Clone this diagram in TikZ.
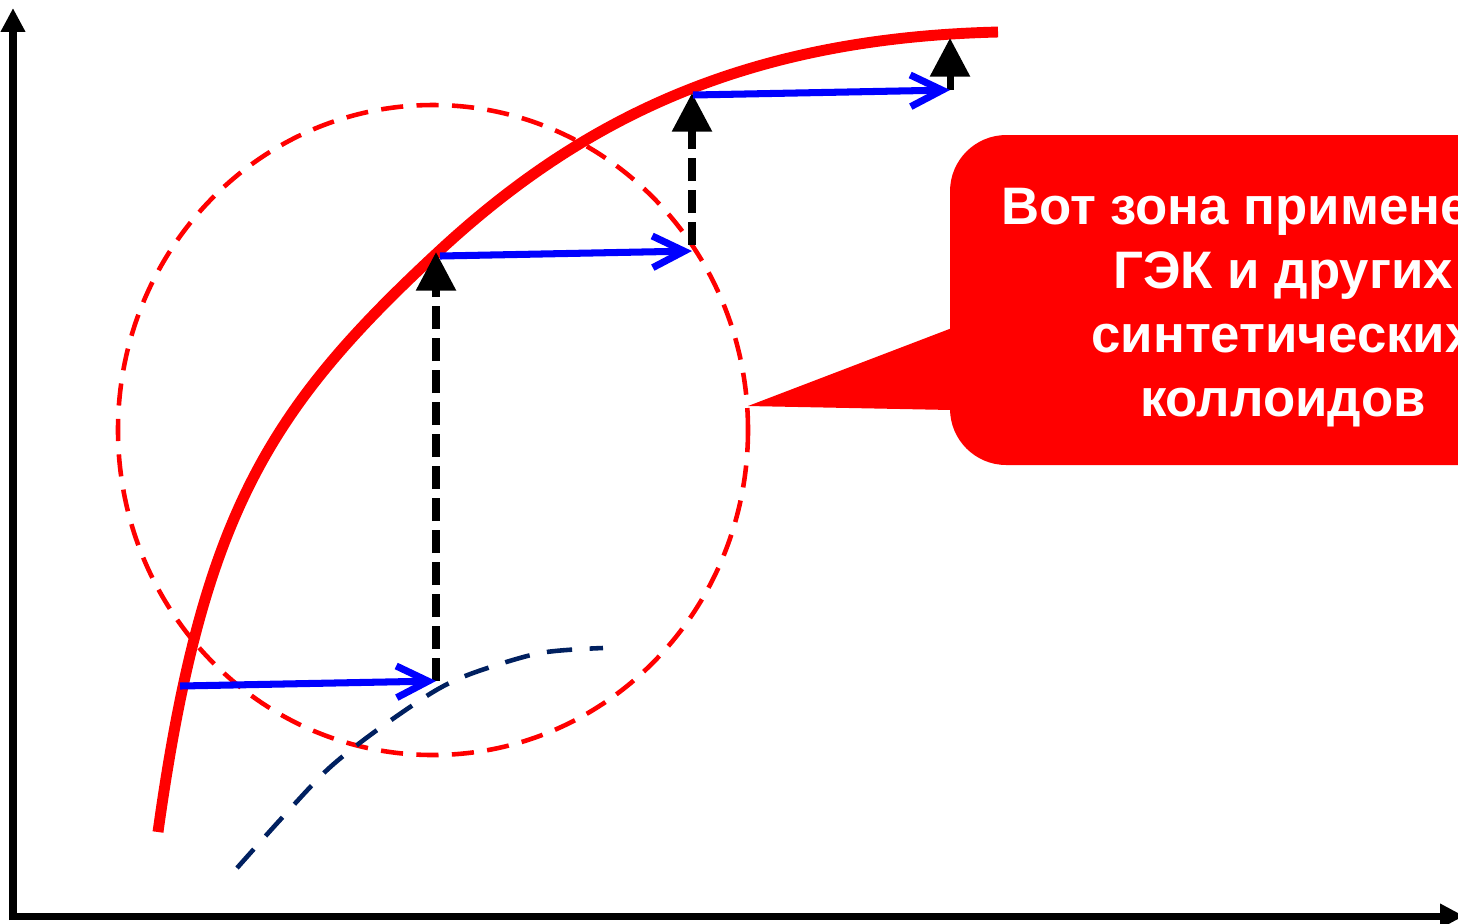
\documentclass[tikz,border=0pt]{standalone}
\usepackage{fontspec}
\setmainfont{Liberation Sans}
\usetikzlibrary{arrows.meta}
\definecolor{navy}{HTML}{002060}

\begin{document}
\begin{tikzpicture}[
    x=0.01cm, y=-0.01cm,
    axis/.style = {-{Triangle[length=6.8pt, width=6.6pt]}, line width=2pt, black},
    curv/.style = {line width=3.1pt, red},
    zone/.style = {dash pattern=on 6.3pt off 3.8pt, line width=1.3pt, red},
    low/.style  = {dash pattern=on 7.2pt off 5pt, line width=1.3pt, navy},
    hop/.style  = {-{Straight Barb[length=9pt, width=9pt]}, line width=2pt, blue},
    lift/.style = {-{Triangle[length=11pt, width=11pt]}, dash pattern=on 6.5pt off 2.6pt, line width=2pt, black},
    tag/.style  = {font=\bfseries\fontsize{15}{18.2}\selectfont, text=white, align=center}
  ]
  \useasboundingbox (0,0) rectangle (1458,923);

  % --- axes ---
  \coordinate (Ybot) at (13,920);
  \coordinate (Ytop) at (13,8);
  \coordinate (Xbeg) at (9,916);
  \coordinate (Xend) at (1464,916);
  \draw[axis] (Ybot) -- (Ytop);
  \draw[axis] (Xbeg) -- (Xend);

  % --- dashed zone circle ---
  \coordinate (C) at (433,430);
  \draw[zone] (C) ellipse [x radius=315, y radius=325];

  % --- lower dashed curve ---
  \draw[low] plot[smooth] coordinates {(237,868) (280,820) (327,770) (373,733)
    (433,692) (473,673) (540,653) (603,648)};

  % --- main red curve ---
  \coordinate (Rbeg) at (158,832);
  \coordinate (Rmid) at (437,253);
  \coordinate (Rend) at (998,32);
  \draw[curv] (Rbeg) .. controls (202,515) and (269,409) .. (Rmid)
                     .. controls (583,117) and (748,38) .. (Rend);

  % --- callout ---
  \coordinate (tip) at (748,406);
  \fill[red, rounded corners=16pt] (950,135) rectangle (1700,465);
  \fill[red] (tip) -- (952,328) -- (952,410) -- cycle;
  \node[tag] (note) at (1283,308) {Вот зона применения\\ГЭК и других\\синтетических\\коллоидов};

  % --- steps ---
  \coordinate (p1) at (180,686);
  \coordinate (q1) at (436,681);
  \coordinate (r1) at (436,252);
  \coordinate (p2) at (440,256);
  \coordinate (q2) at (692,251);
  \coordinate (q2b) at (692,245);
  \coordinate (r2) at (692,93);
  \coordinate (p3) at (693,95);
  \coordinate (q3) at (950,90);
  \coordinate (r3) at (950,38);

  \draw[lift] (q1) -- (r1);
  \draw[lift] (q2b) -- (r2);
  \draw[lift] (q3) -- (r3);

  \draw[hop] (p1) -- (q1);
  \draw[hop] (p2) -- (q2);
  \draw[hop] (p3) -- (q3);

\end{tikzpicture}
\end{document}
